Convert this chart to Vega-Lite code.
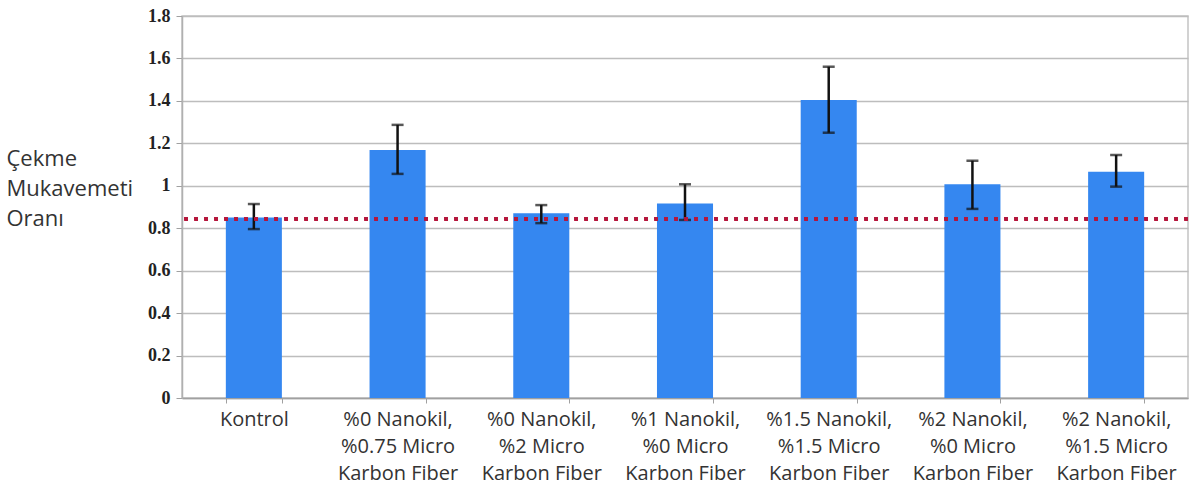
{
  "$schema": "https://vega.github.io/schema/vega-lite/v6.json",
  "description": "Çekme mukavemeti oranı by mixture, with error bars and a reference line.",
  "autosize": {"type": "none"},
  "padding": {"left": 182, "top": 16, "right": 5, "bottom": 95},
  "width": 1006,
  "height": 382,
  "background": "white",
  "data": {
    "values": [
      {"grup": "Kontrol", "oran": 0.85, "alt": 0.796, "ust": 0.914},
      {"grup": "%0 Nanokil,\n%0.75 Micro\nKarbon Fiber", "oran": 1.169, "alt": 1.056, "ust": 1.287},
      {"grup": "%0 Nanokil,\n%2 Micro\nKarbon Fiber", "oran": 0.87, "alt": 0.824, "ust": 0.909},
      {"grup": "%1 Nanokil,\n%0 Micro\nKarbon Fiber", "oran": 0.917, "alt": 0.839, "ust": 1.007},
      {"grup": "%1.5 Nanokil,\n%1.5 Micro\nKarbon Fiber", "oran": 1.404, "alt": 1.25, "ust": 1.561},
      {"grup": "%2 Nanokil,\n%0 Micro\nKarbon Fiber", "oran": 1.007, "alt": 0.891, "ust": 1.118},
      {"grup": "%2 Nanokil,\n%1.5 Micro\nKarbon Fiber", "oran": 1.066, "alt": 0.996, "ust": 1.145}
    ]
  },
  "layer": [
    {
      "mark": {"type": "bar", "color": "#3587f0"},
      "encoding": {
        "x": {
          "field": "grup",
          "type": "nominal",
          "sort": null,
          "scale": {"paddingInner": 0.61, "paddingOuter": 0.305},
          "axis": {
            "title": null,
            "labelAngle": 0,
            "labelExpr": "split(datum.label, '\\n')",
            "labelFont": "Open Sans",
            "labelFontSize": 20,
            "labelColor": "#333333",
            "labelLineHeight": 27,
            "labelBaseline": "top",
            "labelPadding": 6,
            "labelLimit": 200,
            "tickBand": "extent",
            "tickColor": "#a0a0a0",
            "tickSize": 5,
            "domainColor": "#a0a0a0",
            "domainWidth": 1.5
          }
        },
        "y": {
          "field": "oran",
          "type": "quantitative",
          "scale": {"domain": [0, 1.8], "nice": false},
          "title": ["Çekme", "Mukavemeti", "Oranı"],
          "axis": {
            "values": [0, 0.2, 0.4, 0.6, 0.8, 1, 1.2, 1.4, 1.6, 1.8],
            "format": "~g",
            "labelFont": "Liberation Serif",
            "labelFontWeight": "bold",
            "labelFontSize": 18,
            "labelColor": "#222222",
            "labelPadding": 6,
            "tickColor": "#a0a0a0",
            "tickSize": 6,
            "domainColor": "#b0b0b0",
            "domainWidth": 1.5,
            "gridColor": "#bdbdbd",
            "gridWidth": 1.5,
            "titleAngle": 0,
            "titleAlign": "left",
            "titleBaseline": "top",
            "titleX": -176,
            "titleY": 132,
            "titleFont": "Open Sans",
            "titleFontSize": 22,
            "titleFontWeight": "normal",
            "titleColor": "#333333",
            "titleLineHeight": 30
          }
        }
      }
    },
    {
      "mark": {
        "type": "errorbar",
        "ticks": {"size": 12, "thickness": 2.5, "color": "#111111"},
        "rule": {"strokeWidth": 2.5, "color": "#111111"}
      },
      "encoding": {
        "x": {"field": "grup", "type": "nominal", "sort": null},
        "y": {"field": "alt", "type": "quantitative", "title": ["Çekme", "Mukavemeti", "Oranı"]},
        "y2": {"field": "ust"}
      }
    },
    {
      "mark": {"type": "rule", "color": "#b5173c", "strokeWidth": 3.5, "strokeDash": [3.5, 6.5]},
      "encoding": {"y": {"datum": 0.845, "title": ["Çekme", "Mukavemeti", "Oranı"]}}
    }
  ],
  "config": {
    "view": {"stroke": "#c4c4c4", "strokeWidth": 1.5}
  }
}
